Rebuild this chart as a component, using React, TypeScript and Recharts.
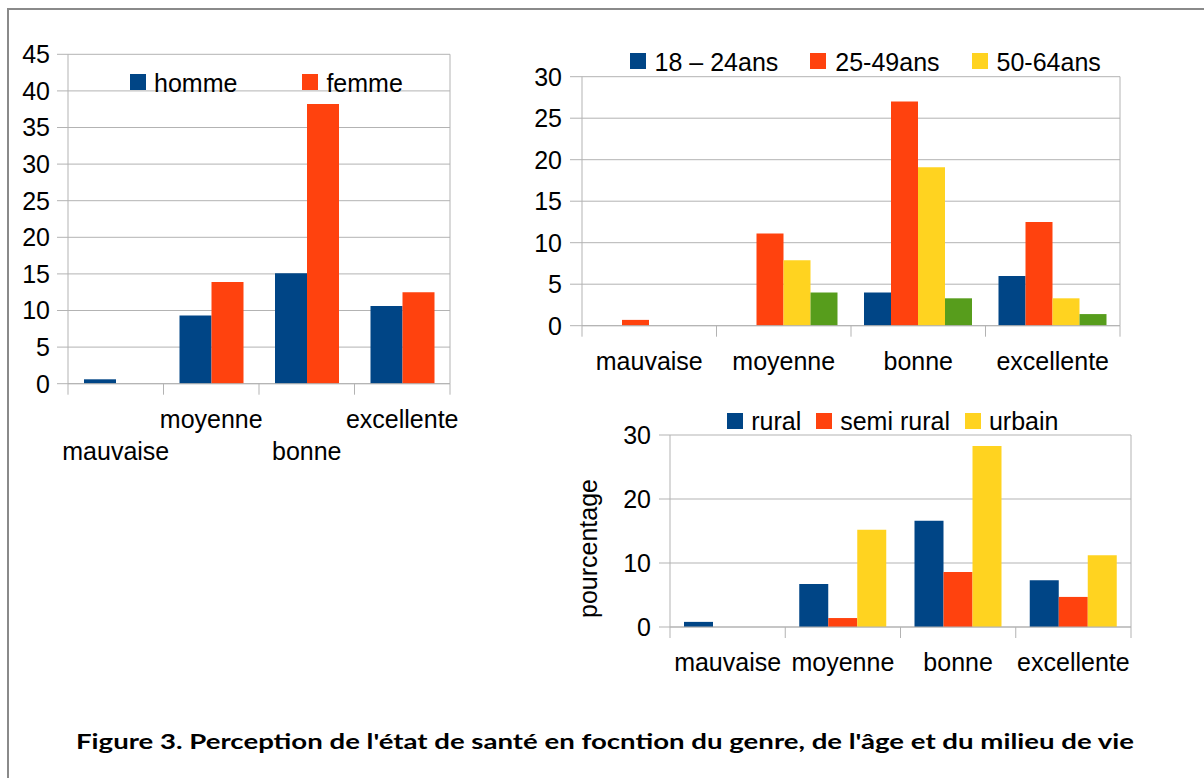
import React from "react";
import { BarChart, Bar, XAxis, YAxis, CartesianGrid } from "recharts";

const FONT = '"Liberation Sans", Arial, sans-serif';
const GRID = "#b3b3b3";
const BLUE = "#004586";
const ORANGE = "#ff420e";
const YELLOW = "#ffd320";
const GREEN = "#579d1c";

// categories & values
const categories = ["mauvaise", "moyenne", "bonne", "excellente"];

const homme = [0.6, 9.3, 15.1, 10.6];
const femme = [0, 13.9, 38.2, 12.5];
const genreTicks = [0, 5, 10, 15, 20, 25, 30, 35, 40, 45];

const age18_24 = [0, 0, 4.0, 6.0];
const age25_49 = [0.7, 11.1, 27.0, 12.5];
const age50_64 = [0, 7.9, 19.1, 3.3];
const age65 = [0, 4.0, 3.3, 1.4];
const ageTicks = [0, 5, 10, 15, 20, 25, 30];

const rural = [0.8, 6.7, 16.6, 7.3];
const semiRural = [0, 1.4, 8.6, 4.7];
const urbain = [0, 15.2, 28.3, 11.2];
const milieuTicks = [0, 10, 20, 30];

const caption =
  "Figure 3. Perception de l'état de santé en focntion du genre, de l'âge et du milieu de vie";

const genreData = categories.map((c, i) => ({ cat: c, homme: homme[i], femme: femme[i] }));
const ageData = categories.map((c, i) => ({
  cat: c,
  a: age18_24[i],
  b: age25_49[i],
  c: age50_64[i],
  d: age65[i],
}));
const milieuData = categories.map((c, i) => ({
  cat: c,
  rural: rural[i],
  semi: semiRural[i],
  urbain: urbain[i],
}));

const W = 1204;
const H = 778;

// tick with boundary marks + label (labels can be staggered)
function makeTick(axisY: number, band: number, labelYs: number[], count: number) {
  return (props: any) => {
    const { x, payload, index } = props;
    return (
      <g>
        <line x1={x - band / 2} x2={x - band / 2} y1={axisY} y2={axisY + 11} stroke={GRID} />
        {index === count - 1 && (
          <line x1={x + band / 2} x2={x + band / 2} y1={axisY} y2={axisY + 11} stroke={GRID} />
        )}
        <text
          x={x}
          y={labelYs[index % labelYs.length]}
          textAnchor="middle"
          fontSize={25}
          fontFamily={FONT}
          fill="#000"
        >
          {payload.value}
        </text>
      </g>
    );
  };
}

function LegendRow({ items, left, top, gap, textGap }: any) {
  return (
    <div
      style={{
        position: "absolute",
        left,
        top,
        display: "flex",
        alignItems: "center",
        fontFamily: FONT,
        fontSize: 25,
        lineHeight: "25px",
        whiteSpace: "nowrap",
      }}
    >
      {items.map((it: any, i: number) => (
        <div key={i} style={{ display: "flex", alignItems: "center", marginRight: gap }}>
          <span style={{ width: 16, height: 16, background: it.color, marginRight: textGap, display: "inline-block" }} />
          <span style={{ position: "relative", top: 1 }}>{it.label}</span>
        </div>
      ))}
    </div>
  );
}

const yTick = { fontSize: 25, fill: "#000", fontFamily: FONT };
const layer: React.CSSProperties = { position: "absolute", left: 0, top: 0 };

export default function App() {
  // plot boxes
  const g = { l: 68, r: 450, t: 54.3, b: 383.7 };
  const a = { l: 582, r: 1120, t: 76.7, b: 325.7 };
  const m = { l: 670, r: 1131, t: 435, b: 627 };

  return (
    <div style={{ position: "absolute", left: 0, top: 0, width: W, height: H, background: "#fff", overflow: "hidden" }}>
      {/* gender */}
      <div style={layer}>
        <BarChart
          width={W}
          height={H}
          data={genreData}
          barGap={0}
          margin={{ top: g.t, left: 0, right: W - g.r, bottom: H - g.b - 90 }}
        >
          <CartesianGrid stroke={GRID} vertical verticalPoints={[g.r]} />
          <XAxis
            dataKey="cat"
            height={90}
            interval={0}
            axisLine={{ stroke: GRID }}
            tickLine={false}
            tick={makeTick(g.b, (g.r - g.l) / 4, [460, 428], 4)}
          />
          <YAxis
            width={g.l}
            domain={[0, 45]}
            ticks={genreTicks}
            interval={0}
            tickSize={11}
            tickMargin={7}
            axisLine={{ stroke: GRID }}
            tickLine={{ stroke: GRID }}
            tick={yTick}
          />
          <Bar dataKey="homme" fill={BLUE} barSize={32} isAnimationActive={false} />
          <Bar dataKey="femme" fill={ORANGE} barSize={32} isAnimationActive={false} />
        </BarChart>
      </div>

      {/* age */}
      <div style={layer}>
        <BarChart
          width={W}
          height={H}
          data={ageData}
          barGap={0}
          margin={{ top: a.t, left: 480, right: W - a.r, bottom: H - a.b - 60 }}
        >
          <CartesianGrid stroke={GRID} vertical verticalPoints={[a.r]} />
          <XAxis
            dataKey="cat"
            height={60}
            interval={0}
            axisLine={{ stroke: GRID }}
            tickLine={false}
            tick={makeTick(a.b, (a.r - a.l) / 4, [370], 4)}
          />
          <YAxis
            width={a.l - 480}
            domain={[0, 30]}
            ticks={ageTicks}
            interval={0}
            tickSize={12}
            tickMargin={8}
            axisLine={{ stroke: GRID }}
            tickLine={{ stroke: GRID }}
            tick={yTick}
          />
          <Bar dataKey="a" fill={BLUE} barSize={27} isAnimationActive={false} />
          <Bar dataKey="b" fill={ORANGE} barSize={27} isAnimationActive={false} />
          <Bar dataKey="c" fill={YELLOW} barSize={27} isAnimationActive={false} />
          <Bar dataKey="d" fill={GREEN} barSize={27} isAnimationActive={false} />
        </BarChart>
      </div>

      {/* milieu */}
      <div style={layer}>
        <BarChart
          width={W}
          height={H}
          data={milieuData}
          barGap={0}
          margin={{ top: m.t, left: 570, right: W - m.r, bottom: H - m.b - 60 }}
        >
          <CartesianGrid stroke={GRID} vertical verticalPoints={[m.r]} />
          <XAxis
            dataKey="cat"
            height={60}
            interval={0}
            axisLine={{ stroke: GRID }}
            tickLine={false}
            tick={makeTick(m.b, (m.r - m.l) / 4, [671], 4)}
          />
          <YAxis
            width={m.l - 570}
            domain={[0, 30]}
            ticks={milieuTicks}
            interval={0}
            tickSize={11}
            tickMargin={8}
            axisLine={{ stroke: GRID }}
            tickLine={{ stroke: GRID }}
            tick={yTick}
          />
          <Bar dataKey="rural" fill={BLUE} barSize={29} isAnimationActive={false} />
          <Bar dataKey="semi" fill={ORANGE} barSize={29} isAnimationActive={false} />
          <Bar dataKey="urbain" fill={YELLOW} barSize={29} isAnimationActive={false} />
        </BarChart>
      </div>

      <LegendRow
        left={130}
        top={69.5}
        gap={65}
        textGap={8}
        items={[
          { label: "homme", color: BLUE },
          { label: "femme", color: ORANGE },
        ]}
      />
      <LegendRow
        left={629.6}
        top={48.8}
        gap={32}
        textGap={9}
        items={[
          { label: "18 – 24ans", color: BLUE },
          { label: "25-49ans", color: ORANGE },
          { label: "50-64ans", color: YELLOW },
        ]}
      />
      <LegendRow
        left={727.2}
        top={408}
        gap={15}
        textGap={8}
        items={[
          { label: "rural", color: BLUE },
          { label: "semi rural", color: ORANGE },
          { label: "urbain", color: YELLOW },
        ]}
      />

      <svg width={W} height={H} style={{ ...layer, pointerEvents: "none" }}>
        <rect x={8} y={9} width={1400} height={1000} fill="none" stroke="#8a8a8a" strokeWidth={2} />
        <text
          transform="translate(597,548.5) rotate(-90)"
          textAnchor="middle"
          fontSize={25}
          fontFamily={FONT}
          fill="#000"
        >
          pourcentage
        </text>
        <text
          x={605}
          y={749}
          textAnchor="middle"
          fontSize={21.5}
          fontWeight="bold"
          fontFamily="Lato, 'Open Sans', sans-serif"
          textLength={1058}
          lengthAdjust="spacingAndGlyphs"
          fill="#000"
        >
          {caption}
        </text>
      </svg>
    </div>
  );
}
